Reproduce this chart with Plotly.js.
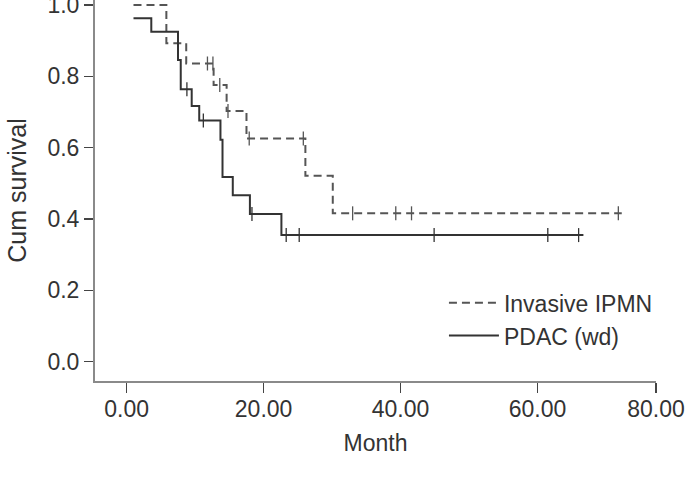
<!DOCTYPE html>
<html>
<head>
<meta charset="utf-8">
<script src="https://cdn.plot.ly/plotly-3.0.1.min.js"></script>
<style>
  html, body { margin: 0; padding: 0; background: #ffffff; }
  #chart { width: 689px; height: 477px; }
</style>
</head>
<body>
<div id="chart"></div>
<script>
// ---- Data ----
var seriesNames = ["Invasive IPMN", "PDAC (wd)"];

// Invasive IPMN: step times (months) and cumulative survival after each step
var ipmnTimes = [1.0, 5.8, 8.7, 12.7, 14.6, 17.5, 26.1, 30.1, 72.3];
var ipmnSurv  = [1.000, 0.893, 0.836, 0.776, 0.703, 0.626, 0.521, 0.416, 0.416];
var ipmnCensored = [11.8, 12.6, 13.6, 14.8, 17.9, 25.8, 33.0, 39.3, 41.6, 71.8];

// PDAC (wd): step times and cumulative survival after each step
var pdacTimes = [1.0, 3.6, 7.5, 7.9, 9.5, 10.6, 13.7, 14.0, 15.5, 18.0, 22.6, 66.7];
var pdacSurv  = [0.963, 0.925, 0.846, 0.764, 0.717, 0.676, 0.622, 0.518, 0.467, 0.414, 0.355, 0.355];
var pdacCensored = [8.8, 11.2, 18.3, 23.3, 25.2, 44.9, 61.5, 66.0];

var xTickValues = [0, 20, 40, 60, 77.3];
var xTickLabels = ["0.00", "20.00", "40.00", "60.00", "80.00"];
var yTickValues = [0, 0.2, 0.4, 0.6, 0.8, 1.0];

// survival value of a step function at time t
function stepAt(times, surv, t) {
  var v = surv[0];
  for (var i = 0; i < times.length; i++) {
    if (times[i] <= t) v = surv[i]; else break;
  }
  return v;
}

var FONT = "Liberation Sans, Arial, Helvetica, sans-serif";
var TXT = "#333333";

var traces = [
  {
    x: ipmnTimes, y: ipmnSurv, name: seriesNames[0], type: "scatter", mode: "lines",
    line: { shape: "hv", color: "#555555", width: 2, dash: "8px,5px" }
  },
  {
    x: pdacTimes, y: pdacSurv, name: seriesNames[1], type: "scatter", mode: "lines",
    line: { shape: "hv", color: "#333333", width: 2 }
  },
  {
    x: ipmnCensored,
    y: ipmnCensored.map(function (t) { return stepAt(ipmnTimes, ipmnSurv, t); }),
    type: "scatter", mode: "markers", showlegend: false, hoverinfo: "x+y",
    marker: { symbol: "line-ns-open", size: 10, color: "#555555", line: { width: 1.3, color: "#555555" } }
  },
  {
    x: pdacCensored,
    y: pdacCensored.map(function (t) { return stepAt(pdacTimes, pdacSurv, t); }),
    type: "scatter", mode: "markers", showlegend: false, hoverinfo: "x+y",
    marker: { symbol: "line-ns-open", size: 10, color: "#333333", line: { width: 1.3, color: "#333333" } }
  }
];

var layout = {
  width: 689, height: 477,
  margin: { l: 95, r: 33.3, t: 0, b: 96 },
  paper_bgcolor: "#ffffff", plot_bgcolor: "#ffffff",
  font: { family: FONT, size: 23, color: TXT },
  showlegend: true,
  legend: {
    x: 0.622, y: 0.262, xanchor: "left", yanchor: "top",
    bgcolor: "rgba(0,0,0,0)", borderwidth: 0,
    font: { family: FONT, size: 23, color: TXT },
    itemwidth: 50, tracegroupgap: 0
  },
  xaxis: {
    range: [-4.62, 77.3],
    tickmode: "array", tickvals: xTickValues, ticktext: xTickLabels,
    showgrid: false, zeroline: false,
    showline: true, linecolor: "#8a8a8a", linewidth: 2,
    ticks: "outside", ticklen: 10, tickwidth: 1.3, tickcolor: "#444444",
    ticklabelstandoff: -4,
    tickfont: { family: FONT, size: 23, color: TXT },
    title: { text: "Month", font: { family: FONT, size: 23, color: TXT }, standoff: 14 }
  },
  yaxis: {
    range: [-0.054, 1.014],
    tickmode: "array", tickvals: yTickValues, tickformat: ".1f",
    ticklabeloverflow: "allow",
    showgrid: false, zeroline: false,
    showline: true, linecolor: "#8a8a8a", linewidth: 2,
    ticks: "outside", ticklen: 9, tickwidth: 1.3, tickcolor: "#444444",
    tickfont: { family: FONT, size: 23, color: TXT },
    title: { text: "Cum survival", font: { family: FONT, size: 25, color: TXT }, standoff: 14 }
  }
};

Plotly.newPlot("chart", traces, layout, { displayModeBar: false, staticPlot: true });
</script>
</body>
</html>
